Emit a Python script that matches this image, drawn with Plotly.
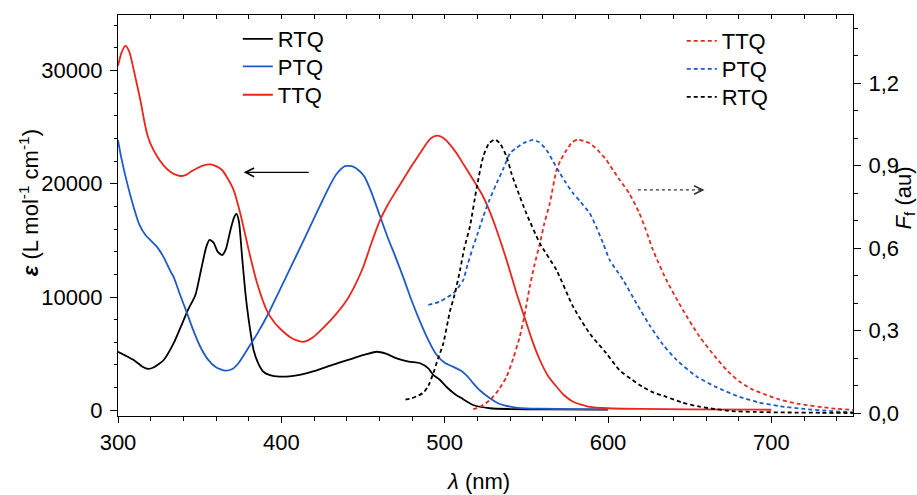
import plotly.graph_objects as go

# ---------------- data ----------------
# Absorption (left axis, epsilon in L mol-1 cm-1)
rtq_abs_wl = [300, 305, 310, 315, 318.5, 322, 328, 334, 340, 343, 347.4, 351, 354, 356, 358.5, 361,
              363.7, 366, 368.5, 371, 372.5, 374, 376, 378, 380, 383, 386, 389, 393, 399, 405, 412,
              420, 430, 444, 452, 458.4, 464, 470.6, 478, 485, 490, 493, 497, 501, 507, 510, 517.5,
              527.7, 540, 560, 600]
rtq_abs_eps = [5170, 4800, 4400, 3850, 3650, 3800, 4440, 5900, 7900, 8900, 10180, 12500, 14400, 15050,
               14800, 14000, 13700, 14200, 15700, 17000, 17330, 16700, 13500, 10350, 8000, 5320, 4100,
               3400, 3100, 2970, 3000, 3150, 3450, 3950, 4590, 4950, 5170, 5000, 4590, 4300, 4150, 3700,
               3120, 2700, 2080, 1350, 1100, 470, 180, 110, 80, 60]

ptq_abs_wl = [300, 302, 305.6, 309.5, 313, 316.8, 320, 324, 328, 332, 334, 338, 342.3, 346, 350.4, 355,
              360, 365.7, 370, 374, 379, 385, 391.2, 399.3, 406, 413, 419.7, 425, 429.9, 434, 439, 444,
              448, 451, 455, 460, 465, 470, 475, 480, 485, 490, 495, 500, 505, 510, 514, 517.5, 522,
              527.7, 533, 538, 545, 558, 580, 600]
ptq_abs_eps = [23850, 22300, 20050, 17970, 16400, 15470, 15000, 14400, 13500, 12300, 11790, 10200, 8560,
               7100, 5610, 4500, 3800, 3500, 3650, 4200, 5320, 6700, 8300, 10700, 12700, 14800, 16850,
               18450, 19900, 20900, 21560, 21500, 21100, 20600, 19300, 17300, 15300, 13500, 11600, 9600,
               7800, 6200, 4900, 4200, 3850, 3500, 3000, 2380, 1700, 1060, 600, 380, 220, 140, 100, 90]

ttq_abs_wl = [300, 302, 304.6, 307, 310, 313.8, 316, 318, 320, 324, 328, 332, 336, 339, 342, 345, 348.4,
              352, 356.5, 360, 363.7, 367, 370.8, 375, 380, 385, 391, 396, 399.3, 405, 409, 413.6, 419,
              425.8, 433, 440.1, 445, 450.2, 455, 460.5, 465, 470.6, 476, 480.8, 485, 489, 492, 495.5,
              499, 503, 507.3, 512, 517.5, 523.6, 528, 531.8, 537.9, 544, 550.1, 554, 558.3, 563, 568.5,
              573, 578.6, 588.8, 600, 620, 650, 700]
ttq_abs_eps = [30400, 31500, 32180, 31600, 29800, 27300, 25600, 24300, 23500, 22400, 21600, 21060, 20750,
               20680, 20800, 21100, 21360, 21600, 21710, 21550, 21210, 20500, 19440, 17300, 14150, 11300,
               8850, 7700, 7200, 6500, 6200, 6050, 6400, 7300, 8400, 9730, 11000, 12670, 14700, 16800,
               18100, 19440, 20700, 21800, 22700, 23570, 24050, 24240, 24050, 23500, 22680, 21600, 20330,
               18850, 17400, 15910, 13270, 10330, 7680, 6000, 4440, 3100, 2080, 1350, 760, 300, 180, 120,
               80, 50]

# Fluorescence (right axis, normalised intensity)
ttq_em_wl = [517.5, 522, 527.7, 533, 537.9, 542, 546, 549, 552.1, 555, 558.3, 561, 564.4, 568.5, 571,
             574.6, 578, 581.7, 585, 588.8, 594, 599, 603, 607.2, 613, 619, 623, 627.5, 635.7, 645.8,
             656, 666.4, 673, 680.6, 688, 696.8, 705, 717, 737, 750]
ttq_em_f = [0.015, 0.025, 0.048, 0.085, 0.133, 0.2, 0.279, 0.36, 0.46, 0.54, 0.618, 0.69, 0.764, 0.885,
            0.92, 0.957, 0.985, 0.996, 0.99, 0.982, 0.955, 0.921, 0.885, 0.848, 0.80, 0.73, 0.67, 0.594,
            0.485, 0.376, 0.279, 0.2, 0.155, 0.115, 0.088, 0.067, 0.05, 0.034, 0.018, 0.012]

ptq_em_wl = [490, 494, 497, 501, 505.3, 508, 511.4, 514, 517.5, 520, 523.6, 527, 531.8, 536, 540, 544,
             548.1, 554.2, 558, 562.4, 566, 570.5, 574, 578.6, 583, 588.8, 593, 597, 601, 609.2, 617.4,
             625.5, 633.6, 641.8, 654, 666.3, 680.5, 692, 705, 720, 737, 750]
ptq_em_f = [0.394, 0.40, 0.406, 0.42, 0.436, 0.455, 0.485, 0.54, 0.606, 0.65, 0.715, 0.77, 0.836, 0.89,
            0.945, 0.965, 0.982, 0.994, 0.985, 0.957, 0.92, 0.873, 0.84, 0.80, 0.77, 0.727, 0.675, 0.618,
            0.558, 0.485, 0.400, 0.320, 0.250, 0.195, 0.135, 0.095, 0.060, 0.040, 0.026, 0.016, 0.008,
            0.004]

rtq_em_wl = [476, 480, 484, 487, 490, 493, 496, 499, 503.2, 506, 509.4, 512, 515.5, 519.6, 523.6, 527,
             530.8, 534, 537.9, 541, 544, 550, 558.3, 568.5, 578.6, 588.8, 599, 607, 614, 621, 628,
             635.7, 645, 656, 666, 676, 690, 710, 730, 750]
rtq_em_f = [0.05, 0.055, 0.065, 0.075, 0.10, 0.145, 0.20, 0.25, 0.37, 0.43, 0.52, 0.60, 0.68, 0.82,
            0.933, 0.98, 0.996, 0.98, 0.933, 0.87, 0.82, 0.727, 0.618, 0.52, 0.388, 0.29, 0.218, 0.157,
            0.125, 0.097, 0.075, 0.06, 0.04, 0.024, 0.015, 0.008, 0.005, 0.003, 0.002, 0.001]

# Tick labels
x_ticks = [300, 400, 500, 600, 700]
x_ticktext = ["300", "400", "500", "600", "700"]
y_ticks = [0, 10000, 20000, 30000]
y_ticktext = ["0", "10000", "20000", "30000"]
y2_ticks = [0.0, 0.3, 0.6, 0.9, 1.2]
y2_ticktext = ["0,0", "0,3", "0,6", "0,9", "1,2"]

# ---------------- styling ----------------
BLACK = "#000000"
BLUE = "#1d5cc8"
RED = "#e8261b"
FONT = "Liberation Sans, Arial, sans-serif"
FS = 22

fig = go.Figure()

def abs_trace(x, y, name, color, legend):
    return go.Scatter(x=x, y=y, name=name, mode="lines",
                      line=dict(color=color, width=1.8, shape="spline", smoothing=0.6),
                      legend=legend, xaxis="x", yaxis="y")

def em_trace(x, y, name, color, legend):
    return go.Scatter(x=x, y=y, name=name, mode="lines",
                      line=dict(color=color, width=1.8, dash="4px,3px", shape="spline", smoothing=0.6),
                      legend=legend, xaxis="x", yaxis="y2")

fig.add_trace(abs_trace(rtq_abs_wl, rtq_abs_eps, "RTQ", BLACK, "legend"))
fig.add_trace(abs_trace(ptq_abs_wl, ptq_abs_eps, "PTQ", BLUE, "legend2"))
fig.add_trace(abs_trace(ttq_abs_wl, ttq_abs_eps, "TTQ", RED, "legend3"))
fig.add_trace(em_trace(ttq_em_wl, ttq_em_f, "TTQ", RED, "legend4"))
fig.add_trace(em_trace(ptq_em_wl, ptq_em_f, "PTQ", BLUE, "legend5"))
fig.add_trace(em_trace(rtq_em_wl, rtq_em_f, "RTQ", BLACK, "legend6"))
# dummy trace for the top (mirror) axis
fig.add_trace(go.Scatter(x=[None], y=[None], xaxis="x3", yaxis="y", showlegend=False,
                         hoverinfo="skip"))

XR = [300, 750]
axis_common = dict(showline=True, linecolor="black", linewidth=1.2, showgrid=False, zeroline=False,
                   tickcolor="black", tickwidth=1.2,
                   tickfont=dict(family=FONT, size=FS, color="black"))

def leg(x, y):
    return dict(x=x, y=y, xanchor="left", yanchor="top", bgcolor="rgba(0,0,0,0)",
                font=dict(family=FONT, size=FS, color="black"))

LX1, LX2 = 0.163, 0.767
fig.update_layout(
    width=917, height=495,
    margin=dict(l=118, r=64, t=15, b=79),
    paper_bgcolor="white", plot_bgcolor="white",
    font=dict(family=FONT, size=FS, color="black"),
    xaxis=dict(range=XR, tickmode="array", tickvals=x_ticks, ticktext=x_ticktext,
               ticks="outside", ticklen=6, ticklabelstandoff=0,
               minor=dict(dtick=20, tick0=300, ticks="outside", ticklen=4, tickcolor="black", tickwidth=1.2),
               **axis_common),
    xaxis3=dict(range=XR, overlaying="x", side="top", anchor="y", tickmode="linear", tick0=300, dtick=20,
                ticks="inside", ticklen=4, showticklabels=False, **axis_common),
    yaxis=dict(range=[-503, 34890], tickmode="array", tickvals=y_ticks, ticktext=y_ticktext,
               ticks="outside", ticklen=7, ticklabelstandoff=3,
               minor=dict(dtick=2000, tick0=0, ticks="outside", ticklen=3, tickcolor="black", tickwidth=1.2),
               **axis_common),
    yaxis2=dict(range=[-0.0098, 1.448], overlaying="y", side="right", anchor="x",
                tickmode="array", tickvals=y2_ticks, ticktext=y2_ticktext,
                ticks="outside", ticklen=7, ticklabelstandoff=3,
                minor=dict(dtick=0.1, tick0=0, ticks="outside", ticklen=4, tickcolor="black", tickwidth=1.2),
                **axis_common),
    legend=leg(LX1, 0.9925),
    legend2=leg(LX1, 0.9237),
    legend3=leg(LX1, 0.8530),
    legend4=leg(LX2, 0.9875),
    legend5=leg(LX2, 0.9177),
    legend6=leg(LX2, 0.8479),
    showlegend=True,
)

# Axis titles
fig.add_annotation(text="<b><i>ε</i></b> (L mol<sup>-1</sup> cm<sup>-1</sup>)", textangle=-90,
                   xref="paper", yref="paper", x=-0.121, y=0.531, xanchor="center", yanchor="middle",
                   showarrow=False, font=dict(family=FONT, size=FS, color="black"))
fig.add_annotation(text="<i>F</i><sub>f</sub> (au)", textangle=-90,
                   xref="paper", yref="paper", x=1.0707, y=0.545, xanchor="center", yanchor="middle",
                   showarrow=False, font=dict(family=FONT, size=FS, color="black"))
fig.add_annotation(text="<i>λ</i> (nm)", xref="paper", yref="paper", x=0.491, y=-0.163,
                   xanchor="center", yanchor="middle",
                   showarrow=False, font=dict(family=FONT, size=FS, color="black"))

# Arrows: solid to the left (absorption axis), dotted to the right (emission axis)
fig.add_annotation(x=376.9, y=21000, ax=417.7, ay=21000, xref="x", yref="y", axref="x", ayref="y",
                   text="", showarrow=True, arrowhead=5, arrowsize=1.3, arrowwidth=1.3, arrowcolor="black")
fig.add_shape(type="line", x0=618.3, x1=657.5, y0=0.812, y1=0.812, xref="x", yref="y2",
              line=dict(color="#333333", width=1.3, dash="dot"))
fig.add_annotation(x=659.1, y=0.812, ax=655.0, ay=0.812, xref="x", yref="y2", axref="x", ayref="y2",
                   text="", showarrow=True, arrowhead=5, arrowsize=1.3, arrowwidth=1.3, arrowcolor="#333333")

fig.write_html("out.html")
